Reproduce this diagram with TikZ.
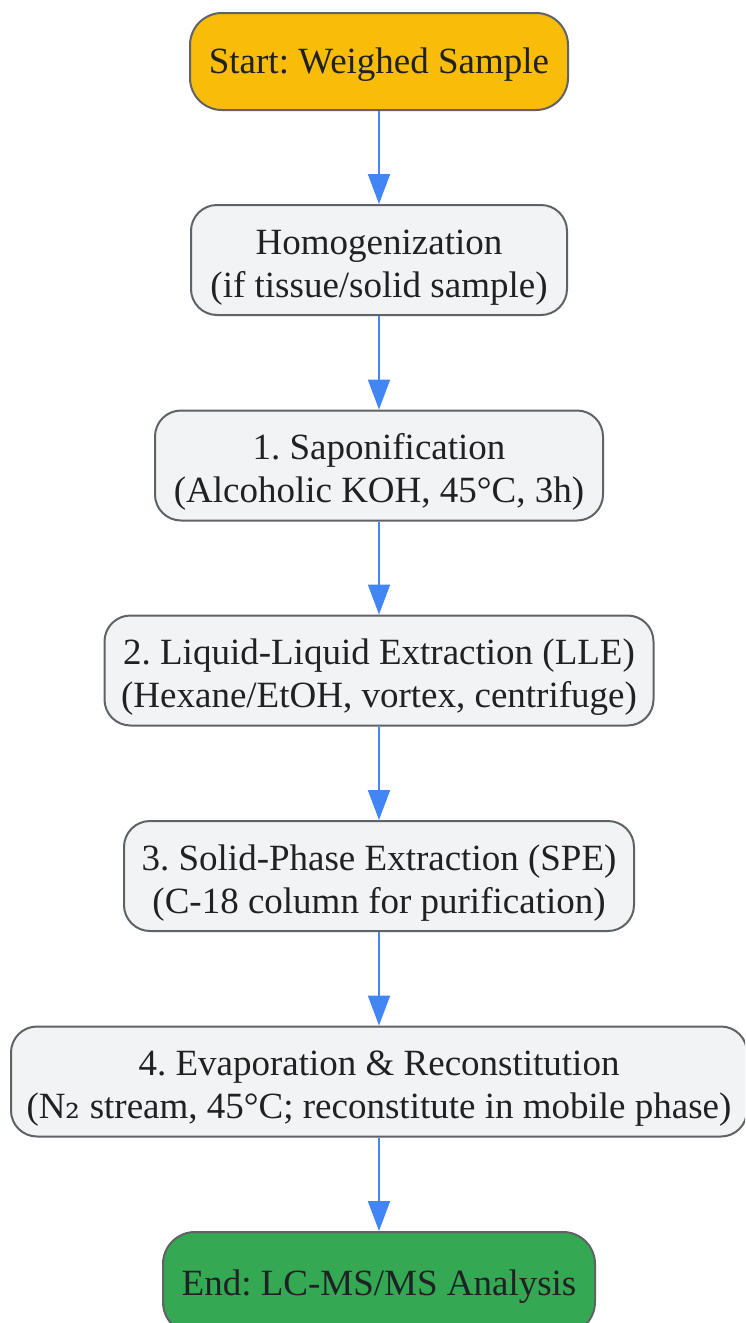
\documentclass[tikz,border=0pt]{standalone}
\usepackage{fontspec}
\setmainfont{Liberation Serif}
\newfontfamily\subfont{DejaVu Serif}
\frenchspacing
\usetikzlibrary{arrows.meta}

\definecolor{startfill}{HTML}{F9BC08}
\definecolor{endfill}{HTML}{34A853}
\definecolor{boxfill}{HTML}{F1F3F4}
\definecolor{boxline}{HTML}{5F6368}
\definecolor{textgray}{HTML}{202124}
\definecolor{arrowblue}{HTML}{4285F4}

% first-line strut, pushes two-line text down a little
\newcommand{\toprow}{\rule{0pt}{39pt}}

\tikzset{
  stepbox/.style={draw=boxline, line width=2pt, fill=boxfill, rounded corners=26pt,
    align=center, text=textgray, font=\fontsize{37}{43}\selectfont,
    minimum height=110pt, inner sep=0pt},
  termbox/.style={stepbox, rounded corners=32pt,
    execute at begin node={\rule{0pt}{32pt}}},
  flow/.style={draw=arrowblue, line width=2pt, -{Triangle[width=22pt,length=30pt]}}
}

\begin{document}
\begin{tikzpicture}[x=1pt,y=-1pt]
    \useasboundingbox (0,0) rectangle (745,1323);
    \clip (0,0) rectangle (745,1323);

    \node[termbox, fill=startfill, minimum width=378pt, minimum height=97pt] (start) at (379,61.5) {Start: Weighed Sample};
    \node[stepbox, minimum width=376pt] (homog) at (379,260) {\toprow Homogenization\\(if tissue/solid sample)};
    \node[stepbox, minimum width=448pt] (sapon) at (379,465.5) {\toprow 1. Saponification\\(Alcoholic KOH, 45°C, 3h)};
    \node[stepbox, minimum width=549pt] (lle) at (379,670.5) {\toprow 2. Liquid-Liquid Extraction (LLE)\\(Hexane/EtOH, vortex, centrifuge)};
    \node[stepbox, minimum width=510pt] (spe) at (379,876) {\toprow 3. Solid-Phase Extraction (SPE)\\(C-18 column for purification)};
    \node[stepbox, minimum width=736pt] (evap) at (379,1081.5) {\toprow 4. Evaporation \& Reconstitution\\(N{\subfont ₂} stream, 45°C; reconstitute in mobile phase)};
    \node[termbox, fill=endfill, minimum width=432pt, minimum height=102pt] (finish) at (379,1283) {End: LC-MS/MS Analysis};

    \draw[flow] (start) -- (homog);
    \draw[flow] (homog) -- (sapon);
    \draw[flow] (sapon) -- (lle);
    \draw[flow] (lle) -- (spe);
    \draw[flow] (spe) -- (evap);
    \draw[flow] (evap) -- (finish);
  \end{tikzpicture}
\end{document}
